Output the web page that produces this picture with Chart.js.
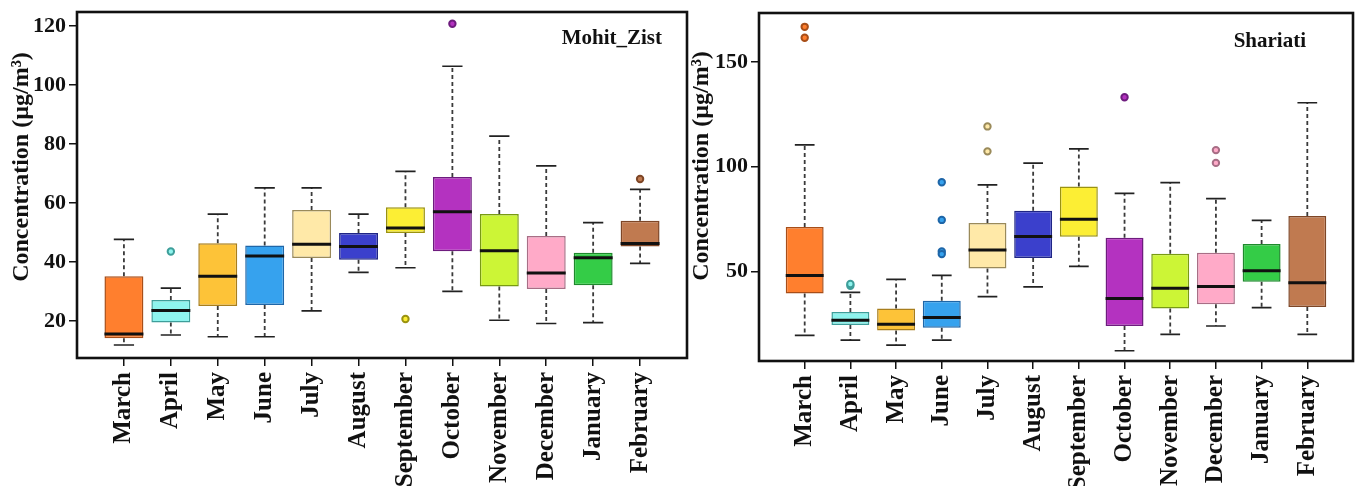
<!DOCTYPE html>
<html>
<head>
<meta charset="utf-8">
<script src="https://cdn.jsdelivr.net/npm/chart.js@4.4.1/dist/chart.umd.min.js"></script>
<style>
  html, body { margin: 0; padding: 0; background: #fff; }
  body { width: 1359px; height: 486px; position: relative; overflow: hidden; }
  .panel { position: absolute; top: 0; height: 486px; }
  #leftPanel { left: 0; width: 693px; }
  #rightPanel { left: 686px; width: 673px; }
</style>
</head>
<body>
<div class="panel" id="leftPanel"><canvas id="mohitChart"></canvas></div>
<div class="panel" id="rightPanel"><canvas id="shariatiChart"></canvas></div>
<script>
// Monthly concentration box plots, two stations
const months = ['March', 'April', 'May', 'June', 'July', 'August', 'September',
                'October', 'November', 'December', 'January', 'February'];

// Mohit_Zist station
const mzLower  = [11.8, 15.2, 14.6, 14.6, 23.4, 36.4, 38.0, 30.0, 20.2, 19.1, 19.4, 39.5];
const mzQ1     = [14.1, 19.4, 25.0, 25.4, 41.3, 40.7, 49.8, 43.6, 31.6, 30.8, 32.1, 45.2];
const mzMedian = [15.5, 23.5, 35.1, 42.0, 46.0, 45.2, 51.5, 57.0, 43.8, 36.2, 41.4, 46.2];
const mzQ3     = [35.1, 27.1, 46.3, 45.5, 57.6, 49.8, 58.5, 68.8, 56.2, 48.8, 43.1, 53.9];
const mzUpper  = [47.6, 31.1, 56.2, 65.1, 65.1, 56.2, 70.7, 106.3, 82.6, 72.5, 53.3, 64.6];
const mzOutMonth = [2, 7, 8, 12];
const mzOutValue = [43.5, 20.6, 120.7, 68.1];
const mzTicks = [20, 40, 60, 80, 100, 120];

// Shariati station
const shLower  = [19.5, 17.3, 14.9, 17.3, 38.0, 42.7, 52.4, 12.2, 20.0, 24.0, 32.8, 20.0];
const shQ1     = [39.5, 24.5, 21.9, 23.2, 51.4, 56.4, 66.6, 24.0, 32.3, 34.4, 45.1, 33.1];
const shMedian = [48.1, 26.7, 24.8, 28.0, 60.2, 66.7, 74.9, 37.1, 42.0, 42.8, 50.3, 44.6];
const shQ3     = [71.2, 30.7, 32.3, 36.0, 73.1, 79.0, 90.5, 66.1, 58.5, 58.9, 63.1, 76.5];
const shUpper  = [110.4, 40.0, 46.2, 48.1, 91.3, 101.7, 108.5, 87.3, 92.4, 84.8, 74.4, 130.5];
const shOutMonth = [1, 1, 2, 2, 4, 4, 4, 4, 5, 5, 8, 10, 10];
const shOutValue = [166.7, 161.5, 43.2, 44.0, 92.6, 74.6, 59.6, 58.3, 119.2, 107.3, 133.1, 107.9, 101.8];
const shTicks = [50, 100, 150];

// box colours per month
const boxFill = ['#FF7F2E', '#8EF4EE', '#FDC338', '#36A2EE', '#FFE9A8', '#3B40CC',
                 '#FCEE34', '#B432C0', '#CCF536', '#FFAAC8', '#34CC47', '#C07A50'];
const boxEdge = ['#A84E18', '#3E9E9A', '#A87E1C', '#1E66A8', '#9A8A5A', '#1F2585',
                 '#9A9210', '#6E1C7E', '#789A12', '#A86E86', '#1E8A2C', '#7E4626'];

const serif = "'Liberation Serif', 'Times New Roman', serif";
const ink = '#111';

// whiskers, medians, frame and texts drawn on top of the library scales
function boxPlotPlugin(stats, opts) {
    return {
        id: 'boxPlot',
        beforeDatasetsDraw(chart) {
            const ctx = chart.ctx;
            const y = chart.scales.y;
            const bars = chart.getDatasetMeta(0).data;
            ctx.save();
            ctx.strokeStyle = '#3a3a3a';
            ctx.lineWidth = 1.8;
            ctx.setLineDash([4, 3]);
            ctx.beginPath();
            bars.forEach(function(bar, i) {
                ctx.moveTo(bar.x, y.getPixelForValue(stats.q3[i]));
                ctx.lineTo(bar.x, y.getPixelForValue(stats.upper[i]));
                ctx.moveTo(bar.x, y.getPixelForValue(stats.q1[i]));
                ctx.lineTo(bar.x, y.getPixelForValue(stats.lower[i]));
            });
            ctx.stroke();
            ctx.setLineDash([]);
            ctx.strokeStyle = '#222';
            ctx.lineWidth = 1.7;
            ctx.beginPath();
            bars.forEach(function(bar, i) {
                const half = bar.width * 0.26;
                const yu = y.getPixelForValue(stats.upper[i]);
                const yl = y.getPixelForValue(stats.lower[i]);
                ctx.moveTo(bar.x - half, yu);
                ctx.lineTo(bar.x + half, yu);
                ctx.moveTo(bar.x - half, yl);
                ctx.lineTo(bar.x + half, yl);
            });
            ctx.stroke();
            ctx.restore();
        },
        afterDatasetsDraw(chart) {
            const ctx = chart.ctx;
            const y = chart.scales.y;
            const bars = chart.getDatasetMeta(0).data;
            ctx.save();
            ctx.strokeStyle = ink;
            ctx.lineWidth = 3;
            ctx.beginPath();
            bars.forEach(function(bar, i) {
                const ym = y.getPixelForValue(stats.median[i]);
                ctx.moveTo(bar.x - bar.width / 2, ym);
                ctx.lineTo(bar.x + bar.width / 2, ym);
            });
            ctx.stroke();
            ctx.restore();
        },
        afterDraw(chart) {
            const ctx = chart.ctx;
            const a = chart.chartArea;
            ctx.save();
            // plot frame
            ctx.strokeStyle = ink;
            ctx.lineWidth = 2.6;
            ctx.strokeRect(a.left, a.top, a.right - a.left, a.bottom - a.top);
            // station name
            ctx.fillStyle = ink;
            ctx.font = 'bold 21px ' + serif;
            ctx.textAlign = 'right';
            ctx.textBaseline = 'middle';
            ctx.fillText(opts.name, a.right - opts.nameRight, a.top + opts.nameDown);
            // y axis title
            ctx.font = 'bold 24px ' + serif;
            ctx.textAlign = 'center';
            ctx.translate(opts.titleX, opts.titleY);
            ctx.rotate(-Math.PI / 2);
            ctx.fillText('Concentration (\u00b5g/m\u00b3)', 0, 0);
            ctx.restore();
        }
    };
}

function makeBoxChart(canvasId, stats, outMonth, outValue, yTicks, yMin, yMax, layout, opts) {
    const ctx = document.getElementById(canvasId).getContext('2d');
    return new Chart(ctx, {
        type: 'bar',
        data: {
            datasets: [
                {
                    type: 'bar',
                    data: months.map(function(m, i) {
                        return { x: i + 1, y: [stats.q1[i], stats.q3[i]] };
                    }),
                    backgroundColor: boxFill,
                    borderColor: boxEdge,
                    borderWidth: 1.5,
                    borderSkipped: false,
                    barPercentage: 0.83,
                    categoryPercentage: 1
                },
                {
                    type: 'scatter',
                    data: outMonth.map(function(m, i) {
                        return { x: m, y: outValue[i] };
                    }),
                    pointRadius: 3.2,
                    pointBorderWidth: 2,
                    pointBackgroundColor: outMonth.map(function(m) { return boxFill[m - 1]; }),
                    pointBorderColor: outMonth.map(function(m) { return boxEdge[m - 1]; })
                }
            ]
        },
        options: {
            responsive: true,
            maintainAspectRatio: false,
            animation: false,
            events: [],
            layout: { padding: layout.padding },
            plugins: {
                legend: { display: false },
                tooltip: { enabled: false }
            },
            scales: {
                x: {
                    type: 'linear',
                    min: 0,
                    max: 13,
                    offset: false,
                    border: { display: false },
                    grid: {
                        offset: false,
                        drawOnChartArea: false,
                        drawTicks: true,
                        tickLength: 8,
                        tickColor: ink,
                        lineWidth: 1.5
                    },
                    afterBuildTicks: function(scale) {
                        scale.ticks = months.map(function(m, i) { return { value: i + 1 }; });
                    },
                    afterFit: function(scale) { scale.height = layout.xHeight; },
                    ticks: {
                        autoSkip: false,
                        minRotation: 90,
                        maxRotation: 90,
                        padding: 6,
                        color: ink,
                        font: { family: serif, size: 25, weight: 'bold' },
                        callback: function(value) { return months[value - 1]; }
                    }
                },
                y: {
                    min: yMin,
                    max: yMax,
                    border: { display: false },
                    grid: {
                        drawOnChartArea: false,
                        drawTicks: true,
                        tickLength: 8,
                        tickColor: ink,
                        lineWidth: 1.5
                    },
                    afterBuildTicks: function(scale) {
                        scale.ticks = yTicks.map(function(v) { return { value: v }; });
                    },
                    afterFit: function(scale) { scale.width = layout.yWidth; },
                    ticks: {
                        padding: 3,
                        color: ink,
                        font: { family: serif, size: 22, weight: 'bold', lineHeight: 0.8 }
                    }
                }
            }
        },
        plugins: [boxPlotPlugin(stats, opts)]
    });
}

makeBoxChart('mohitChart',
    { lower: mzLower, q1: mzQ1, median: mzMedian, q3: mzQ3, upper: mzUpper },
    mzOutMonth, mzOutValue, mzTicks, 7.4, 124.7,
    { padding: { top: 12, right: 4, left: 0, bottom: 0 }, xHeight: 128, yWidth: 77 },
    { name: 'Mohit_Zist', nameRight: 25, nameDown: 27, titleX: 22, titleY: 167 });

makeBoxChart('shariatiChart',
    { lower: shLower, q1: shQ1, median: shMedian, q3: shQ3, upper: shUpper },
    shOutMonth, shOutValue, shTicks, 7.3, 173.3,
    { padding: { top: 13, right: 1, left: 0, bottom: 0 }, xHeight: 125, yWidth: 73 },
    { name: 'Shariati', nameRight: 47, nameDown: 29, titleX: 16, titleY: 166 });
</script>
</body>
</html>
